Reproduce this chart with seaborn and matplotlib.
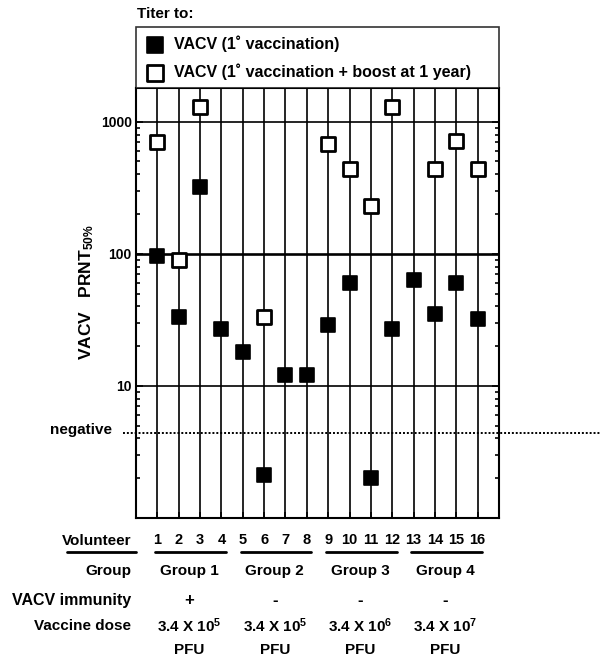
import numpy as np
import pandas as pd
import matplotlib
matplotlib.use("Agg")
import matplotlib.pyplot as plt
import matplotlib.transforms as mtransforms
from matplotlib.ticker import LogLocator, NullFormatter, FixedLocator
import seaborn as sns

# data
volunteers = list(range(1, 17))
primary = [97, 33, 320, 27, 18, 2.1, 12, 12, 29, 60, 2, 27, 63, 35, 60, 32]
boost = [700, 90, 1300, np.nan, np.nan, 33, np.nan, np.nan,
         680, 440, 230, 1300, np.nan, 440, 720, 440]
negative_cutoff = 4.4
group_names = ["Group 1", "Group 2", "Group 3", "Group 4"]
group_members = [(1, 4), (5, 8), (9, 12), (13, 16)]
immunity = ["+", "-", "-", "-"]
dose_exp = ["5", "5", "6", "7"]

sns.set_style("ticks")
plt.rcParams["font.family"] = ["Liberation Sans", "DejaVu Sans"]
plt.rcParams["font.weight"] = "bold"
plt.rcParams["text.color"] = "black"
plt.rcParams["axes.labelcolor"] = "black"
plt.rcParams["xtick.color"] = "black"
plt.rcParams["ytick.color"] = "black"
plt.rcParams["mathtext.fontset"] = "custom"
plt.rcParams["mathtext.rm"] = "Liberation Sans:bold"
plt.rcParams["mathtext.bf"] = "Liberation Sans:bold"
plt.rcParams["mathtext.it"] = "Liberation Sans:bold"
plt.rcParams["mathtext.default"] = "bf"

df = pd.DataFrame({"volunteer": volunteers, "primary": primary, "boost": boost})

W, H = 600, 665
fig = plt.figure(figsize=(6, 6.65), dpi=100)
ax = fig.add_axes([136 / W, 1 - 518 / H, 363 / W, 430 / H])

# grid of vertical lines per volunteer and horizontal decade lines
ax.vlines(df["volunteer"], 1, 1800, color="black", lw=1.2, zorder=1)
for yv, lw in [(10, 1.2), (100, 1.9), (1000, 1.2)]:
    ax.axhline(yv, color="black", lw=lw, zorder=1)

sns.scatterplot(data=df, x="volunteer", y="primary", marker="s", s=100,
                color="black", edgecolor="black", linewidth=1.2,
                label="VACV (1˚ vaccination)", ax=ax, zorder=3)
sns.scatterplot(data=df, x="volunteer", y="boost", marker="s", s=100,
                color="white", edgecolor="black", linewidth=2,
                label="VACV (1˚ vaccination + boost at 1 year)", ax=ax, zorder=3)

ax.set_yscale("log")
ax.set_ylim(1, 1800)
ax.set_xlim(0, 17)
ax.yaxis.set_major_locator(FixedLocator([10, 100, 1000]))
ax.set_yticklabels(["10", "100", "1000"], fontsize=10, fontweight="bold")
ax.yaxis.set_minor_locator(LogLocator(base=10, subs=np.arange(2, 10)))
ax.yaxis.set_minor_formatter(NullFormatter())
ax.tick_params(axis="y", which="both", direction="in", right=True, left=True)
ax.tick_params(axis="y", which="major", length=5, width=1.2, pad=3)
ax.tick_params(axis="y", which="minor", length=3, width=1.2)
ax.set_xticks(volunteers)
ax.set_xticklabels([str(v) for v in volunteers], fontsize=10.5, fontweight="bold")
ax.tick_params(axis="x", direction="in", length=4, pad=11, width=1.2)
for sp in ax.spines.values():
    sp.set_linewidth(1.5)
    sp.set_color("black")
ax.set_xlabel("")
ax.set_ylabel("VACV   PRNT$_{50\\%}$", fontsize=12.5, fontweight="bold")
ax.yaxis.set_label_coords(-0.11, 0.525)

# negative cutoff dotted line, running past the axes
trans = mtransforms.blended_transform_factory(ax.transAxes, ax.transData)
ax.plot([-0.036, 1.3], [negative_cutoff, negative_cutoff], ls=(0, (1, 1)),
        color="black", lw=1.4, transform=trans, clip_on=False, zorder=2)
ax.text(-0.065, negative_cutoff * 1.06, "negative", transform=trans, ha="right",
        va="center", fontsize=11, fontweight="bold")

# legend above the axes
leg = ax.legend(loc="lower left", bbox_to_anchor=(0, 1.0, 1, 0.137), mode="expand",
                borderaxespad=0, frameon=True, fancybox=False, fontsize=11.5,
                handletextpad=0.45, labelspacing=0.72, borderpad=0.5,
                markerscale=1.15, handlelength=1.4)
leg.get_frame().set_edgecolor("black")
leg.get_frame().set_linewidth(1.2)
for t in leg.get_texts():
    t.set_fontweight("bold")
fig.text(137 / W, 1 - 14 / H, "Titer to:", fontsize=11, fontweight="bold",
         ha="left", va="center")

# table below the plot
def fy(py):
    return 1 - py / H

lab_x = 131 / W
fig.text(lab_x, fy(541), "Volunteer", ha="right", va="center", fontsize=11, fontweight="bold")
fig.text(lab_x, fy(571), "Group", ha="right", va="center", fontsize=11, fontweight="bold")
fig.text(lab_x, fy(600), "VACV immunity", ha="right", va="center", fontsize=11.5, fontweight="bold")
fig.text(lab_x, fy(626), "Vaccine dose", ha="right", va="center", fontsize=11, fontweight="bold")
fig.add_artist(plt.Line2D([67 / W, 136 / W], [fy(552), fy(552)], color="black", lw=2))

tx = mtransforms.blended_transform_factory(ax.transData, fig.transFigure)
for name, (a, b), imm, ex in zip(group_names, group_members, immunity, dose_exp):
    c = (a + b) / 2
    ax.plot([a - 0.1, b + 0.2], [fy(552), fy(552)], color="black", lw=2,
            transform=tx, clip_on=False)
    ax.text(c, fy(571), name, transform=tx, ha="center", va="center",
            fontsize=11, fontweight="bold")
    ax.text(c, fy(600), imm, transform=tx, ha="center", va="center",
            fontsize=12, fontweight="bold")
    ax.text(c, fy(626), "3.4 X 10$^{" + ex + "}$", transform=tx, ha="center",
            va="center", fontsize=11, fontweight="bold")
    ax.text(c, fy(650), "PFU", transform=tx, ha="center", va="center",
            fontsize=11, fontweight="bold")

fig.savefig("out.png", dpi=100)
